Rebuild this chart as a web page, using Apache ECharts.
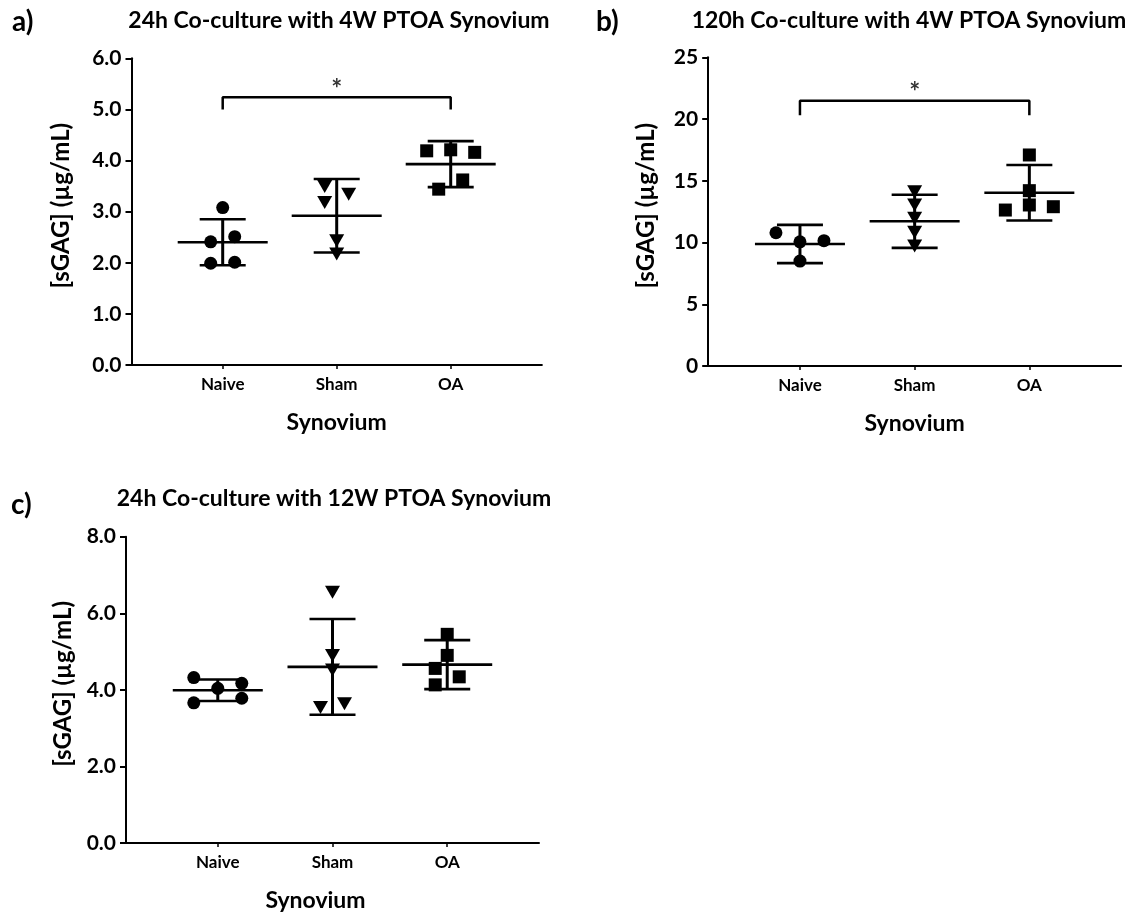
<!DOCTYPE html>
<html>
<head>
<meta charset="utf-8">
<script src="https://cdn.jsdelivr.net/npm/echarts@6/dist/echarts.min.js"></script>
<style>
  html, body { margin: 0; padding: 0; background: #fff; }
  #chart { width: 1139px; height: 913px; }
</style>
</head>
<body>
<div id="chart"></div>
<script>
// Synovium groups on the x axis
const groups = ['Naive', 'Sham', 'OA'];

// a) 24h co-culture with 4W PTOA synovium, sGAG (µg/mL)
const aNaive = [3.08, 2.41, 2.51, 1.99, 2.01];
const aSham  = [3.49, 3.34, 3.18, 2.43, 2.17];
const aOA    = [4.19, 4.21, 4.16, 3.62, 3.44];
const aMean  = [2.40, 2.92, 3.93];
const aSD    = [0.45, 0.72, 0.45];
const aBracket = [5.0, 5.24];        // Naive vs OA, p < 0.05

// b) 120h co-culture with 4W PTOA synovium
const bNaive = [10.79, 10.06, 10.15, 8.50];
const bSham  = [14.11, 13.04, 11.96, 10.83, 9.72];
const bOA    = [17.09, 14.20, 13.04, 12.63, 12.90];
const bMean  = [9.88, 11.72, 14.03];
const bSD    = [1.55, 2.15, 2.25];
const bBracket = [20.3, 21.48];      // Naive vs OA, p < 0.05

// c) 24h co-culture with 12W PTOA synovium
const cNaive = [4.32, 4.04, 4.17, 3.66, 3.78];
const cSham  = [6.55, 4.90, 4.52, 3.54, 3.64];
const cOA    = [5.45, 4.90, 4.56, 4.34, 4.13];
const cMean  = [3.99, 4.60, 4.66];
const cSD    = [0.28, 1.25, 0.64];

// Column scatter: side-by-side slot of each replicate (half-steps)
const aNaiveSlot = [0, -1, 1, -1, 1];
const aShamSlot  = [-1, 1, -1, 0, 0];
const aOASlot    = [-2, 0, 2, 1, -1];
const bNaiveSlot = [-2, 0, 2, 0];
const bShamSlot  = [0, 0, 0, 0, 0];
const bOASlot    = [0, 0, 0, -2, 2];
const cNaiveSlot = [-2, 0, 2, -2, 2];
const cShamSlot  = [0, 0, 0, -1, 1];
const cOASlot    = [0, 0, -1, 1, -1];

const FONT = 'Lato, "Open Sans", "DejaVu Sans", sans-serif';
const SLOT_PX = 12;
const INK = '#000';

const chart = echarts.init(document.getElementById('chart'), null, { renderer: 'canvas' });

function xAxisFor(gridIndex, namePad) {
  return {
    gridIndex, type: 'value', min: 0.2, max: 3.8,
    name: 'Synovium', nameLocation: 'middle', nameGap: 46,
    nameTextStyle: { fontFamily: FONT, fontWeight: 'bold', fontSize: 23, color: INK, padding: namePad || 0 },
    axisLine: { lineStyle: { color: INK, width: 2 } },
    axisTick: { customValues: [1, 2, 3], length: 4, lineStyle: { color: INK, width: 1.5 } },
    axisLabel: {
      customValues: [1, 2, 3], margin: 11,
      formatter: v => groups[Math.round(v) - 1] || '',
      fontFamily: FONT, fontWeight: 'bold', fontSize: 17, color: INK
    },
    splitLine: { show: false }
  };
}

function yAxisFor(gridIndex, max, interval, digits, gap) {
  return {
    gridIndex, type: 'value', min: 0, max, interval,
    name: '[sGAG] (µg/mL)', nameLocation: 'middle', nameGap: gap, nameRotate: 90,
    nameTextStyle: { fontFamily: FONT, fontWeight: 'bold', fontSize: 24, color: INK, padding: [0, 0, 0, 12] },
    axisLine: { show: true, lineStyle: { color: INK, width: 2 } },
    axisTick: { show: true, length: 6, lineStyle: { color: INK, width: 2 } },
    axisLabel: {
      margin: 10, formatter: v => v.toFixed(digits),
      fontFamily: FONT, fontWeight: 'bold', fontSize: 21, color: INK
    },
    splitLine: { show: false }
  };
}

function pointSeries(idx, values, slots, groupNo, symbol) {
  const isTri = symbol === 'triangle';
  return {
    type: 'scatter', xAxisIndex: idx, yAxisIndex: idx, z: 5,
    symbol, symbolSize: isTri ? [15, 13] : 13, symbolRotate: isTri ? 180 : 0,
    itemStyle: { color: INK, opacity: 1 },
    emphasis: { disabled: true },
    data: values.map((v, i) => ({ value: [groupNo, v], symbolOffset: [slots[i] * SLOT_PX, 0] }))
  };
}

// mean line with ± SD whiskers and caps
function errorSeries(idx, means, sds) {
  return {
    type: 'custom', xAxisIndex: idx, yAxisIndex: idx, z: 4,
    data: means.map((m, i) => [i + 1, m, sds[i]]),
    renderItem: (params, api) => {
      const x = api.value(0), m = api.value(1), s = api.value(2);
      const pm = api.coord([x, m]);
      const pt = api.coord([x, m + s]);
      const pb = api.coord([x, m - s]);
      const st = { stroke: INK, lineWidth: 2.6 };
      return {
        type: 'group',
        children: [
          { type: 'line', shape: { x1: pt[0], y1: pt[1], x2: pb[0], y2: pb[1] }, style: { stroke: INK, lineWidth: 3 } },
          { type: 'line', shape: { x1: pt[0] - 23, y1: pt[1], x2: pt[0] + 23, y2: pt[1] }, style: st },
          { type: 'line', shape: { x1: pb[0] - 23, y1: pb[1], x2: pb[0] + 23, y2: pb[1] }, style: st },
          { type: 'line', shape: { x1: pm[0] - 45, y1: pm[1], x2: pm[0] + 45, y2: pm[1] }, style: st }
        ]
      };
    }
  };
}

function bracketSeries(idx, br) {
  return [
    {
      type: 'line', xAxisIndex: idx, yAxisIndex: idx, symbol: 'none', z: 3,
      lineStyle: { color: INK, width: 2.5 },
      data: [[1, br[0]], [1, br[1]], [3, br[1]], [3, br[0]]]
    },
    {
      type: 'scatter', xAxisIndex: idx, yAxisIndex: idx, symbolSize: 0, z: 3,
      label: { show: true, position: 'top', distance: -5, formatter: '*',
               fontFamily: FONT, fontWeight: 'bold', fontSize: 26, color: INK },
      data: [[2, br[1]]]
    }
  ];
}

function letter(text, x, y) {
  return {
    type: 'text', left: x, top: y,
    style: { text, fontFamily: FONT, fontWeight: 'bold', fontSize: 28, fill: INK }
  };
}

function title(text, x, y) {
  return {
    type: 'text', x, y,
    style: { text, fontFamily: FONT, fontWeight: 'bold', fontSize: 23, fill: INK, textAlign: 'center', textVerticalAlign: 'middle' }
  };
}

const option = {
  animation: false,
  backgroundColor: '#fff',
  grid: [
    { left: 131.5, top: 58.3, width: 410.4, height: 306.7 },
    { left: 708.2, top: 57.3, width: 412.9, height: 308.7 },
    { left: 126, top: 536.7, width: 413, height: 310 }
  ],
  xAxis: [xAxisFor(0), xAxisFor(1), xAxisFor(2, [0, 34, 0, 0])],
  yAxis: [yAxisFor(0, 6, 1, 1, 58), yAxisFor(1, 25, 5, 0, 50), yAxisFor(2, 8, 2, 1, 51)],
  graphic: [
    letter('a)', 12, 8),
    letter('b)', 596, 8),
    letter('c)', 11, 491),
    title('24h Co-culture with 4W PTOA Synovium', 339, 21),
    title('120h Co-culture with 4W PTOA Synovium', 909, 21),
    title('24h Co-culture with 12W PTOA Synovium', 334, 499)
  ],
  series: [
    errorSeries(0, aMean, aSD),
    pointSeries(0, aNaive, aNaiveSlot, 1, 'circle'),
    pointSeries(0, aSham, aShamSlot, 2, 'triangle'),
    pointSeries(0, aOA, aOASlot, 3, 'rect'),
    ...bracketSeries(0, aBracket),

    errorSeries(1, bMean, bSD),
    pointSeries(1, bNaive, bNaiveSlot, 1, 'circle'),
    pointSeries(1, bSham, bShamSlot, 2, 'triangle'),
    pointSeries(1, bOA, bOASlot, 3, 'rect'),
    ...bracketSeries(1, bBracket),

    errorSeries(2, cMean, cSD),
    pointSeries(2, cNaive, cNaiveSlot, 1, 'circle'),
    pointSeries(2, cSham, cShamSlot, 2, 'triangle'),
    pointSeries(2, cOA, cOASlot, 3, 'rect')
  ]
};

chart.setOption(option);
</script>
</body>
</html>
